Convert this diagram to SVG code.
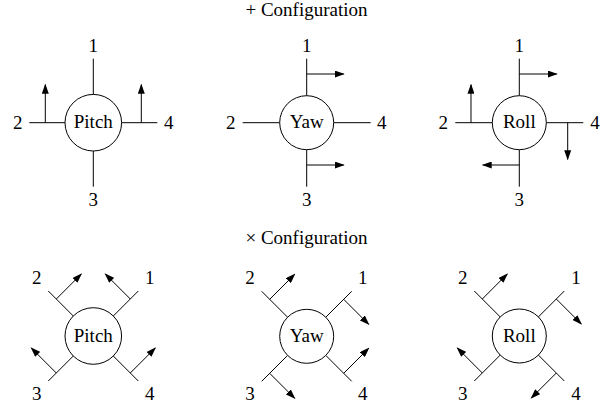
<svg xmlns="http://www.w3.org/2000/svg" width="609" height="408" viewBox="0 0 609 408">
<style>
  .bg { fill: #ffffff; }
  .arm { stroke: #000; stroke-width: 1; fill: none; }
  .arr { stroke: #000; stroke-width: 1; fill: none; marker-end: url(#tip); }
  .body { fill: #fff; stroke: #000; stroke-width: 1; }
  text { font-family: "Liberation Serif", "Times New Roman", serif; font-size: 19px; fill: #000; text-anchor: middle; }
</style>
<defs>
  <marker id="tip" markerUnits="userSpaceOnUse" markerWidth="10" markerHeight="7" refX="9" refY="3.5" orient="auto">
    <path d="M0,0 L10,3.5 L0,7 z" fill="#000"/>
  </marker>
</defs>
<rect class="bg" x="0" y="0" width="609" height="408"/>

<text id="title-plus" x="306.5" y="16">+ Configuration</text>
<text id="title-cross" x="306.5" y="244">× Configuration</text>

<!-- + configuration -->
<g id="plus-pitch" transform="translate(93.3,122.7)">
  <g class="arms">
    <line class="arm" x1="0" y1="-64" x2="0" y2="-28"/>
    <line class="arm" x1="0" y1="28" x2="0" y2="64"/>
    <line class="arm" x1="-64" y1="0" x2="-28" y2="0"/>
    <line class="arm" x1="28" y1="0" x2="64" y2="0"/>
  </g>
  <circle class="body" cx="0" cy="0" r="28.3"/>
  <text x="0" y="5.5">Pitch</text>
  <text x="0" y="-70.4">1</text>
  <text x="-75.5" y="6.3">2</text>
  <text x="0" y="83">3</text>
  <text x="75.5" y="6.3">4</text>
  <g class="thrust">
    <line class="arr" x1="-48" y1="0" x2="-48" y2="-38"/>
    <line class="arr" x1="48" y1="0" x2="48" y2="-38"/>
  </g>
</g>

<g id="plus-yaw" transform="translate(306.7,122.7)">
  <g class="arms">
    <line class="arm" x1="0" y1="-64" x2="0" y2="-27"/>
    <line class="arm" x1="0" y1="27" x2="0" y2="64"/>
    <line class="arm" x1="-64" y1="0" x2="-27" y2="0"/>
    <line class="arm" x1="27" y1="0" x2="64" y2="0"/>
  </g>
  <circle class="body" cx="0" cy="0" r="27"/>
  <text x="0" y="5.5">Yaw</text>
  <text x="0" y="-70.4">1</text>
  <text x="-76" y="6.3">2</text>
  <text x="0" y="83">3</text>
  <text x="75" y="6.3">4</text>
  <g class="thrust">
    <line class="arr" x1="0" y1="-48.7" x2="37" y2="-48.7"/>
    <line class="arr" x1="0" y1="42.3" x2="37" y2="42.3"/>
  </g>
</g>

<g id="plus-roll" transform="translate(519.3,122.7)">
  <g class="arms">
    <line class="arm" x1="0" y1="-64" x2="0" y2="-27"/>
    <line class="arm" x1="0" y1="27" x2="0" y2="64"/>
    <line class="arm" x1="-64" y1="0" x2="-27" y2="0"/>
    <line class="arm" x1="27" y1="0" x2="64" y2="0"/>
  </g>
  <circle class="body" cx="0" cy="0" r="27"/>
  <text x="0" y="5.5">Roll</text>
  <text x="0" y="-70.4">1</text>
  <text x="-76" y="6.3">2</text>
  <text x="0" y="83">3</text>
  <text x="75.7" y="6.3">4</text>
  <g class="thrust">
    <line class="arr" x1="0" y1="-48.7" x2="37.4" y2="-48.7"/>
    <line class="arr" x1="-48.3" y1="0" x2="-48.3" y2="-38"/>
    <line class="arr" x1="48.4" y1="0" x2="48.4" y2="36.6"/>
    <line class="arr" x1="0" y1="42.3" x2="-36.6" y2="42.3"/>
  </g>
</g>

<!-- x configuration -->
<g id="cross-pitch" transform="translate(93.3,336)">
  <g class="arms">
    <line class="arm" x1="-45" y1="-45" x2="-20" y2="-20"/>
    <line class="arm" x1="45" y1="-45" x2="20" y2="-20"/>
    <line class="arm" x1="-45" y1="45" x2="-20" y2="20"/>
    <line class="arm" x1="45" y1="45" x2="20" y2="20"/>
  </g>
  <circle class="body" cx="0" cy="0" r="28.3"/>
  <text x="0" y="6">Pitch</text>
  <text x="56.5" y="-52">1</text>
  <text x="-56.6" y="-52">2</text>
  <text x="-56.6" y="64">3</text>
  <text x="56.5" y="64">4</text>
  <g class="thrust">
    <line class="arr" x1="-37" y1="-37" x2="-12" y2="-62"/>
    <line class="arr" x1="37" y1="-37" x2="12" y2="-62"/>
    <line class="arr" x1="-37" y1="37" x2="-62" y2="12"/>
    <line class="arr" x1="37" y1="37" x2="62" y2="12"/>
  </g>
</g>

<g id="cross-yaw" transform="translate(306.7,336.3)">
  <g class="arms">
    <line class="arm" x1="-45" y1="-45" x2="-19" y2="-19"/>
    <line class="arm" x1="45" y1="-45" x2="19" y2="-19"/>
    <line class="arm" x1="-45" y1="45" x2="-19" y2="19"/>
    <line class="arm" x1="45" y1="45" x2="19" y2="19"/>
  </g>
  <circle class="body" cx="0" cy="0" r="27"/>
  <text x="0" y="6">Yaw</text>
  <text x="56" y="-52">1</text>
  <text x="-56.7" y="-52">2</text>
  <text x="-56.7" y="64">3</text>
  <text x="56" y="64">4</text>
  <g class="thrust">
    <line class="arr" x1="-37" y1="-37" x2="-12" y2="-62"/>
    <line class="arr" x1="37" y1="-37" x2="62" y2="-12"/>
    <line class="arr" x1="-37" y1="37" x2="-12" y2="62"/>
    <line class="arr" x1="37" y1="37" x2="62" y2="12"/>
  </g>
</g>

<g id="cross-roll" transform="translate(519.3,336)">
  <g class="arms">
    <line class="arm" x1="-45" y1="-45" x2="-19" y2="-19"/>
    <line class="arm" x1="45" y1="-45" x2="19" y2="-19"/>
    <line class="arm" x1="-45" y1="45" x2="-19" y2="19"/>
    <line class="arm" x1="45" y1="45" x2="19" y2="19"/>
  </g>
  <circle class="body" cx="0" cy="0" r="27"/>
  <text x="0" y="6">Roll</text>
  <text x="56.7" y="-52">1</text>
  <text x="-56.6" y="-52">2</text>
  <text x="-56.6" y="64">3</text>
  <text x="56.7" y="64">4</text>
  <g class="thrust">
    <line class="arr" x1="-37" y1="-37" x2="-12" y2="-62"/>
    <line class="arr" x1="37" y1="-37" x2="62" y2="-12"/>
    <line class="arr" x1="-37" y1="37" x2="-62" y2="12"/>
    <line class="arr" x1="37" y1="37" x2="12" y2="62"/>
  </g>
</g>
</svg>
